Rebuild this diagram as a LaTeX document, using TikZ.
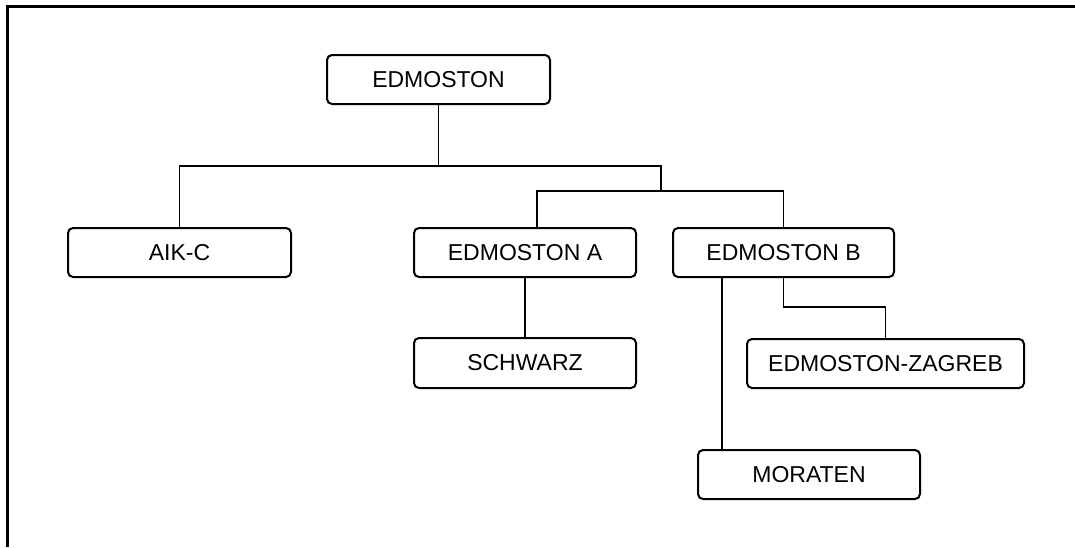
\documentclass[tikz,border=0pt]{standalone}
\usepackage{fontspec}
\setmainfont{Liberation Sans}
\begin{document}
\begin{tikzpicture}[x=0.5pt,y=-0.5pt,
  box/.style={draw=black,line width=1pt,rounded corners=2.5pt,inner sep=0pt,
    minimum height=24.5pt,font=\fontsize{11.5}{13}\selectfont},
  link/.style={draw=black,line width=0.9pt},
  frame/.style={draw=black,line width=1.5pt}]
\useasboundingbox (0,0) rectangle (1075,547);
\draw[frame] (7,547) -- (7,6) -- (1075,6);

\node[box,minimum width=111.5pt] (top) at (438.5,79.5) {EDMOSTON};
\node[box,minimum width=111.5pt] (aik) at (179.5,252.5) {AIK-C};
\node[box,minimum width=111pt] (ea) at (525,252.5) {EDMOSTON A};
\node[box,minimum width=110.5pt] (eb) at (783.5,252.5) {EDMOSTON B};
\node[box,minimum width=111pt,minimum height=25pt] (sch) at (525,363) {SCHWARZ};
\node[box,minimum width=138.5pt] (zag) at (885.5,363.5) {EDMOSTON-ZAGREB};
\node[box,minimum width=111pt] (mor) at (809,474.5) {MORATEN};

\coordinate (j2) at (661,166);
\coordinate (j3) at (661,191);
\coordinate (eaup) at (537,0);
\coordinate (m1) at (722,0);
\coordinate (k) at (0,307);

\draw[link] (top.south) -- (top.south |- j2);
\draw[link] (aik.north) |- (j2) -- (j3);
\draw[link] (ea.north -| eaup) |- (j3) -| (eb.north);
\draw[link] (ea.south) -- (sch.north);
\draw[link] (eb.south -| m1) -- (mor.north -| m1);
\draw[link] (eb.south) |- (k -| zag.north) -- (zag.north);
\end{tikzpicture}
\end{document}
